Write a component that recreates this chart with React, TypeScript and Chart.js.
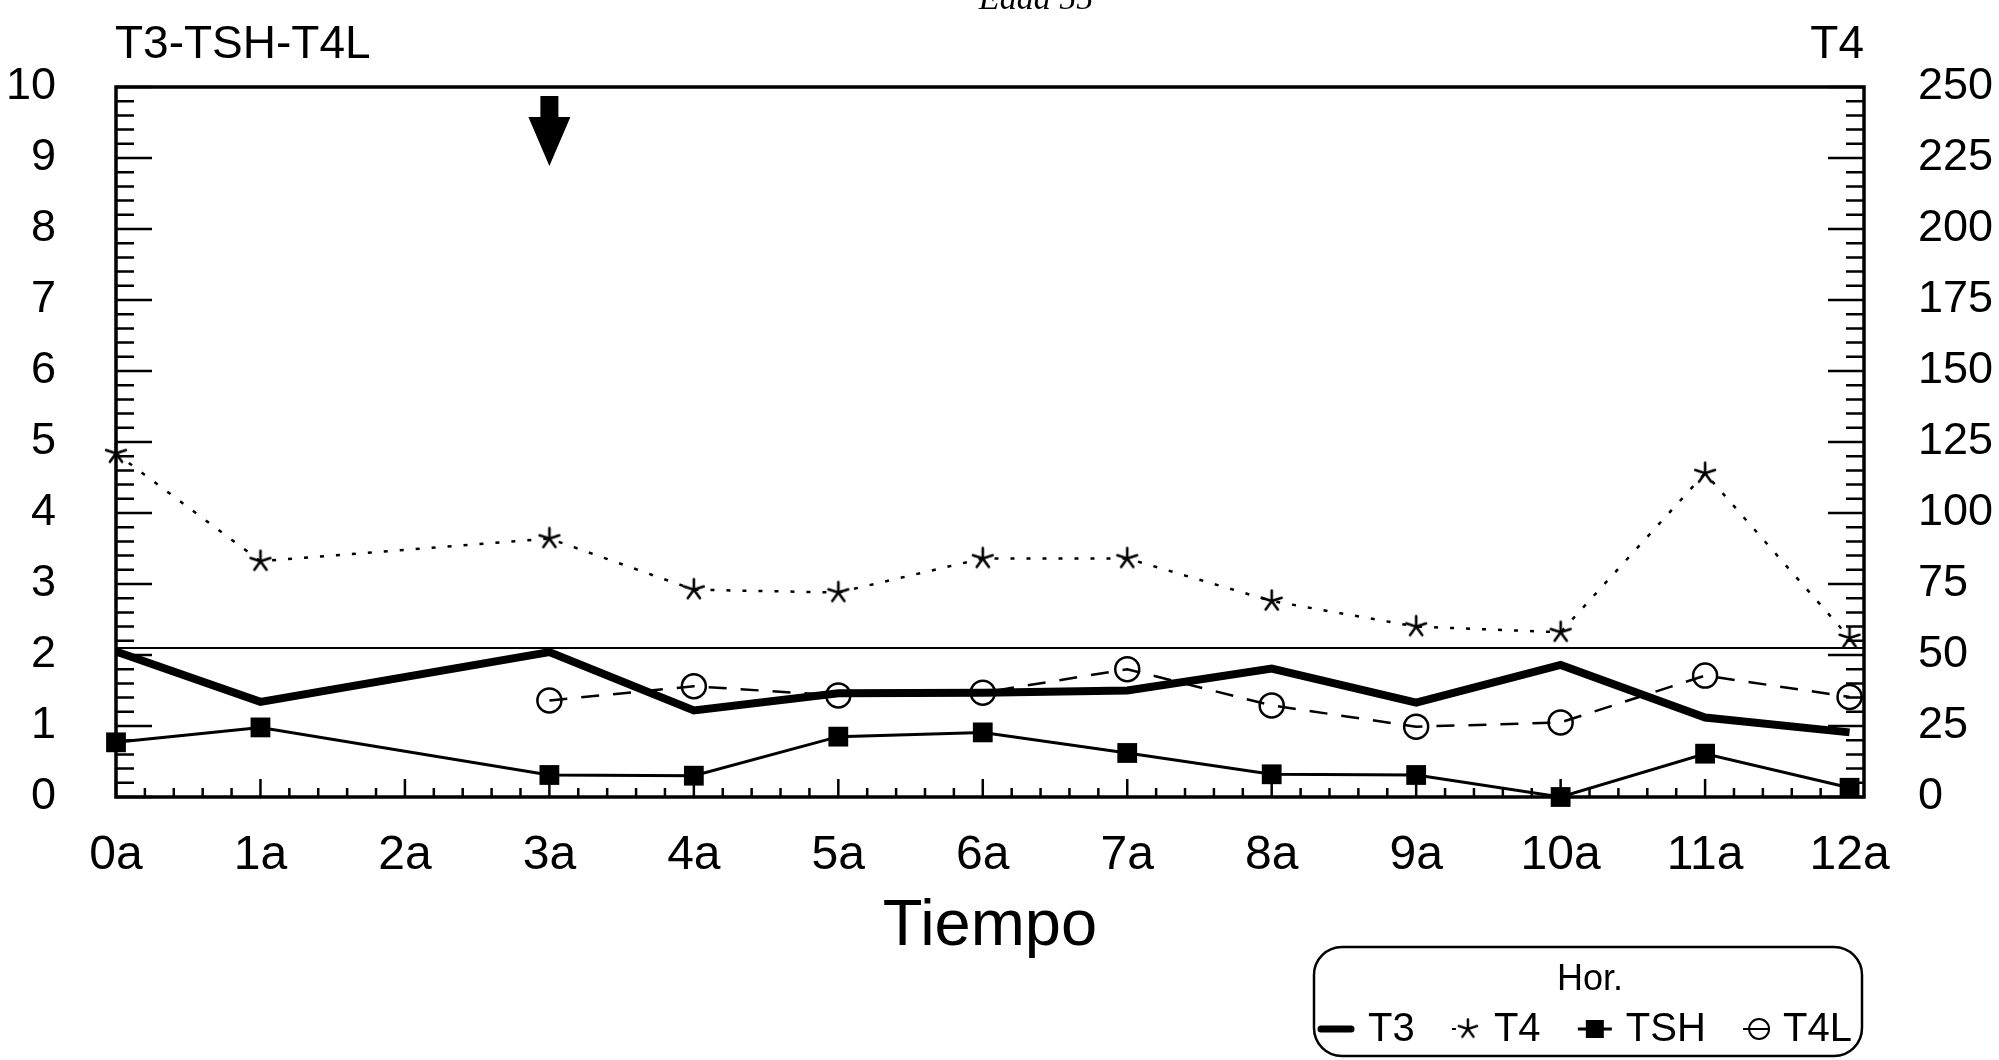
import React, { useEffect, useRef } from 'react';
import { Chart, registerables } from 'chart.js';

Chart.register(...registerables);

// ---------- data ----------
const CATEGORIES = ['0a', '1a', '2a', '3a', '4a', '5a', '6a', '7a', '8a', '9a', '10a', '11a', '12a'];
const T3 = [2.05, 1.34, null, 2.04, 1.22, 1.46, 1.47, 1.5, 1.81, 1.33, 1.86, 1.12, 0.91];
const T4 = [121, 83, null, 91, 73, 72, 84, 84, 69, 60, 58, 114, 56];
const TSH = [0.77, 0.98, null, 0.31, 0.3, 0.85, 0.91, 0.62, 0.32, 0.31, 0.0, 0.61, 0.13];
const T4L = [null, null, null, 1.36, 1.56, 1.43, 1.47, 1.8, 1.29, 0.99, 1.05, 1.71, 1.41];
const LEFT_TICKS = [0, 1, 2, 3, 4, 5, 6, 7, 8, 9, 10];
const RIGHT_TICKS = [0, 25, 50, 75, 100, 125, 150, 175, 200, 225, 250];
const SERIES_NAMES = ['T3', 'T4', 'TSH', 'T4L'];
const REF_LEVEL = 2.1;
const ARROW_AT = 3;
const LEFT_AXIS_TITLE = 'T3-TSH-T4L';
const RIGHT_AXIS_TITLE = 'T4';
const X_TITLE = 'Tiempo';
const TOP_TITLE = 'Edad 55';
const LEGEND_TITLE = 'Hor.';

const FONT = '"Liberation Sans", Arial, Helvetica, sans-serif';

function makeAsterisk(size: number, lw: number): HTMLCanvasElement {
  const c = document.createElement('canvas');
  c.width = size;
  c.height = size;
  const g = c.getContext('2d')!;
  g.strokeStyle = '#000';
  g.lineWidth = lw;
  g.lineCap = 'round';
  const cx = size / 2;
  const cy = size / 2;
  const r = size / 2 - lw;
  for (let k = 0; k < 5; k++) {
    const a = -Math.PI / 2 + (k * 2 * Math.PI) / 5;
    g.beginPath();
    g.moveTo(cx, cy);
    g.lineTo(cx + r * Math.cos(a), cy + r * Math.sin(a));
    g.stroke();
  }
  return c;
}

const toPoints = (arr: (number | null)[]) => arr.map((v, i) => ({ x: i, y: v }));

export default function App() {
  const ref = useRef<HTMLCanvasElement | null>(null);

  useEffect(() => {
    document.body.style.margin = '0';
    const canvas = ref.current!;
    const star = makeAsterisk(26, 2.6);

    const decorPlugin = {
      id: 'decor',
      beforeDatasetsDraw(chart: any) {
        const { ctx, chartArea: a, scales } = chart;
        const yL = scales.y;
        const yR = scales.y1;
        const xS = scales.x;
        ctx.save();
        ctx.strokeStyle = '#000';
        // reference line
        ctx.lineWidth = 2;
        const ry = yL.getPixelForValue(REF_LEVEL);
        ctx.beginPath();
        ctx.moveTo(a.left, ry);
        ctx.lineTo(a.right, ry);
        ctx.stroke();
        // inward ticks
        ctx.lineWidth = 2.5;
        ctx.beginPath();
        for (let k = 0; k <= 50; k++) {
          const py = yL.getPixelForValue(k / 5);
          const len = k % 5 === 0 ? 36 : 18;
          ctx.moveTo(a.left, py);
          ctx.lineTo(a.left + len, py);
        }
        for (let k = 0; k <= 50; k++) {
          const py = yR.getPixelForValue(k * 5);
          const len = k % 5 === 0 ? 36 : 18;
          ctx.moveTo(a.right, py);
          ctx.lineTo(a.right - len, py);
        }
        for (let k = 0; k <= 60; k++) {
          const px = xS.getPixelForValue(k / 5);
          const len = k % 5 === 0 ? 18 : 9;
          ctx.moveTo(px, a.bottom);
          ctx.lineTo(px, a.bottom - len);
        }
        ctx.stroke();
        // frame
        ctx.lineWidth = 3.5;
        ctx.strokeRect(a.left, a.top, a.right - a.left, a.bottom - a.top);
        ctx.restore();
      },
      afterDraw(chart: any) {
        const { ctx, scales } = chart;
        const xS = scales.x;
        ctx.save();
        ctx.fillStyle = '#000';
        ctx.strokeStyle = '#000';
        // titles
        ctx.font = `46px ${FONT}`;
        ctx.textBaseline = 'alphabetic';
        ctx.textAlign = 'left';
        ctx.fillText(LEFT_AXIS_TITLE, 115, 58);
        ctx.textAlign = 'right';
        ctx.fillText(RIGHT_AXIS_TITLE, 1864, 58);
        ctx.font = `italic 34px "Liberation Serif", "Times New Roman", serif`;
        ctx.textAlign = 'center';
        ctx.fillText(TOP_TITLE, 1036, 9);

        // arrow
        const ax = xS.getPixelForValue(ARROW_AT);
        ctx.beginPath();
        ctx.moveTo(ax - 9, 96);
        ctx.lineTo(ax + 9, 96);
        ctx.lineTo(ax + 9, 117);
        ctx.lineTo(ax + 21, 117);
        ctx.lineTo(ax, 166);
        ctx.lineTo(ax - 21, 117);
        ctx.lineTo(ax - 9, 117);
        ctx.closePath();
        ctx.fill();

        // legend box
        const L = 1314, T = 947, R = 1862, B = 1056, rad = 28;
        ctx.lineWidth = 2.5;
        ctx.beginPath();
        ctx.moveTo(L + rad, T);
        ctx.lineTo(R - rad, T);
        ctx.arcTo(R, T, R, T + rad, rad);
        ctx.lineTo(R, B - rad);
        ctx.arcTo(R, B, R - rad, B, rad);
        ctx.lineTo(L + rad, B);
        ctx.arcTo(L, B, L, B - rad, rad);
        ctx.lineTo(L, T + rad);
        ctx.arcTo(L, T, L + rad, T, rad);
        ctx.closePath();
        ctx.stroke();

        ctx.font = `36px ${FONT}`;
        ctx.textAlign = 'center';
        ctx.textBaseline = 'middle';
        ctx.fillText(LEGEND_TITLE, 1590, 980);

        const rowY = 1029;
        ctx.font = `40px ${FONT}`;
        ctx.textAlign = 'left';
        const symW = [36, 28, 34, 26];
        const symGap = 14;
        const textW = SERIES_NAMES.map((n) => ctx.measureText(n).width);
        const used = symW.reduce((s, v) => s + v, 0) + textW.reduce((s, v) => s + v, 0) + symGap * 4;
        const entryGap = (1852 - 1318 - used) / 3;
        let x = 1318;
        SERIES_NAMES.forEach((name, i) => {
          if (i === 0) {
            ctx.lineWidth = 7;
            ctx.lineCap = 'round';
            ctx.beginPath();
            ctx.moveTo(x + 3, rowY);
            ctx.lineTo(x + 33, rowY);
            ctx.stroke();
            ctx.lineCap = 'butt';
          } else if (i === 1) {
            ctx.lineWidth = 2;
            ctx.beginPath();
            ctx.moveTo(x, rowY);
            ctx.lineTo(x + 4, rowY);
            ctx.stroke();
            ctx.drawImage(star, x + 16 - 12, rowY - 12, 24, 24);
          } else if (i === 2) {
            ctx.lineWidth = 3;
            ctx.beginPath();
            ctx.moveTo(x, rowY);
            ctx.lineTo(x + 34, rowY);
            ctx.stroke();
            ctx.fillRect(x + 17 - 9, rowY - 9, 18, 18);
          } else {
            ctx.lineWidth = 2;
            ctx.beginPath();
            ctx.moveTo(x, rowY);
            ctx.lineTo(x + 26, rowY);
            ctx.stroke();
            ctx.beginPath();
            ctx.arc(x + 16, rowY, 10, 0, Math.PI * 2);
            ctx.stroke();
          }
          x += symW[i] + symGap;
          ctx.fillText(name, x, rowY + 1);
          x += textW[i] + entryGap;
        });
        ctx.restore();
      },
    };

    const chart = new Chart(canvas, {
      type: 'line',
      data: {
        datasets: [
          {
            label: SERIES_NAMES[0],
            data: toPoints(T3),
            yAxisID: 'y',
            borderColor: '#000',
            borderWidth: 8,
            pointRadius: 0,
            spanGaps: true,
            borderJoinStyle: 'miter',
            clip: false,
          },
          {
            label: SERIES_NAMES[1],
            data: toPoints(T4),
            yAxisID: 'y1',
            borderColor: '#000',
            borderWidth: 2.5,
            borderDash: [4, 12],
            pointStyle: star,
            pointRadius: 12,
            spanGaps: true,
            clip: false,
          },
          {
            label: SERIES_NAMES[2],
            data: toPoints(TSH),
            yAxisID: 'y',
            borderColor: '#000',
            borderWidth: 3,
            pointStyle: 'rect',
            pointRadius: 14,
            pointBackgroundColor: '#000',
            pointBorderColor: '#000',
            pointBorderWidth: 0,
            spanGaps: true,
            clip: false,
          },
          {
            label: SERIES_NAMES[3],
            data: toPoints(T4L),
            yAxisID: 'y',
            borderColor: '#000',
            borderWidth: 2.5,
            borderDash: [18, 14],
            pointStyle: 'circle',
            pointRadius: 12,
            pointBackgroundColor: 'rgba(0,0,0,0)',
            pointBorderColor: '#000',
            pointBorderWidth: 2.5,
            spanGaps: true,
            clip: false,
          },
        ],
      },
      options: {
        animation: false,
        responsive: false,
        maintainAspectRatio: false,
        layout: { padding: { top: 87, left: 0, right: 0, bottom: 0 } },
        plugins: { legend: { display: false }, tooltip: { enabled: false } },
        scales: {
          x: {
            type: 'linear',
            min: 0,
            max: 12.1,
            position: 'bottom',
            grid: { display: false },
            border: { display: false },
            afterBuildTicks: (s: any) => {
              s.ticks = CATEGORIES.map((_, i) => ({ value: i }));
            },
            afterFit: (s: any) => {
              s.height = 263;
            },
            ticks: {
              autoSkip: false,
              maxRotation: 0,
              padding: 22,
              color: '#000',
              font: { family: FONT, size: 48 },
              callback: (v: any) => CATEGORIES[v as number] ?? '',
            },
            title: {
              display: true,
              text: X_TITLE,
              color: '#000',
              font: { family: FONT, size: 65 },
              padding: { top: 0, bottom: 94 },
            },
          },
          y: {
            type: 'linear',
            position: 'left',
            min: 0,
            max: 10,
            grid: { display: false },
            border: { display: false },
            afterBuildTicks: (s: any) => {
              s.ticks = LEFT_TICKS.map((v) => ({ value: v }));
            },
            afterFit: (s: any) => {
              s.width = 116;
            },
            ticks: {
              padding: 52,
              color: '#000',
              font: { family: FONT, size: 45 },
            },
          },
          y1: {
            type: 'linear',
            position: 'right',
            min: 0,
            max: 250,
            grid: { display: false },
            border: { display: false },
            afterBuildTicks: (s: any) => {
              s.ticks = RIGHT_TICKS.map((v) => ({ value: v }));
            },
            afterFit: (s: any) => {
              s.width = 1999 - 1864;
            },
            ticks: {
              padding: 46,
              color: '#000',
              font: { family: FONT, size: 45 },
            },
          },
        },
      },
      plugins: [decorPlugin],
    } as any);

    return () => chart.destroy();
  }, []);

  return (
    <div style={{ width: 1999, height: 1060, overflow: 'hidden', background: '#fff' }}>
      <canvas ref={ref} width={1999} height={1060} style={{ display: 'block' }} />
    </div>
  );
}
